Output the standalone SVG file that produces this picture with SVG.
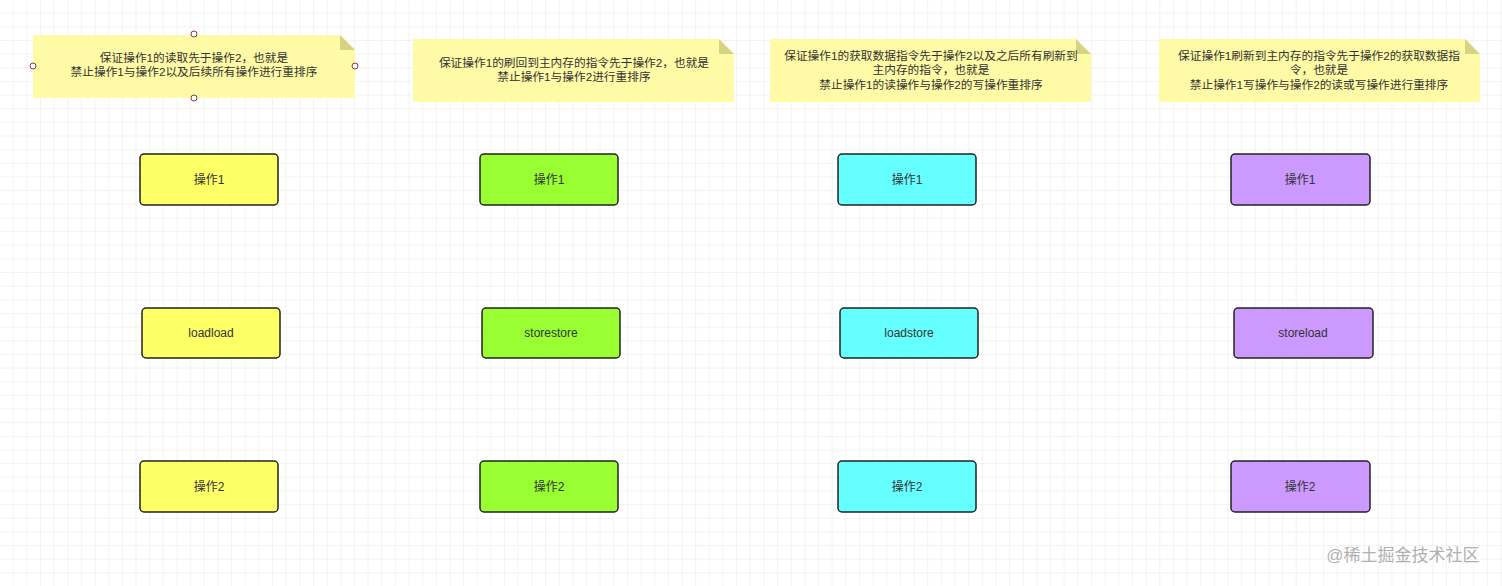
<svg xmlns="http://www.w3.org/2000/svg" width="1502" height="586" viewBox="0 0 1502 586">
<style>
text{font-family:"Liberation Sans","Noto Sans CJK SC",sans-serif;fill:#333;text-anchor:middle}
.nt{font-size:11.7px}
.bx{stroke:#222;stroke-width:1.5}
.bt{font-size:12px}
.note{fill:#fffaa6}
.fold{fill:#d6d382}
.h{fill:#fff;stroke:#8a3a3a;stroke-width:1}
</style>
<defs>
<pattern id="g" width="13.65" height="13.65" patternUnits="userSpaceOnUse">
<path d="M13.65 0V13.65H0" fill="none" stroke="#e8e8e8" stroke-width="1"/>
</pattern>
</defs>
<rect width="1502" height="586" fill="#fff"/>
<rect width="1502" height="586" fill="url(#g)"/>
<g id="note1">
<path class="note" d="M33 35H340L355 50V98H33Z"/>
<path class="fold" d="M340 35L355 50H340Z"/>
<text class="nt" x="194" y="62">保证操作1的读取先于操作2，也就是</text>
<text class="nt" x="194" y="76">禁止操作1与操作2以及后续所有操作进行重排序</text>
<circle class="h" cx="194" cy="34" r="3"/><circle class="h" cx="194" cy="98" r="3"/>
<circle class="h" cx="33" cy="66" r="3"/><circle class="h" cx="355" cy="66" r="3"/>
</g>
<g id="note2">
<path class="note" d="M413 39H719L734 54V102H413Z"/>
<path class="fold" d="M719 39L734 54H719Z"/>
<text class="nt" x="574" y="67">保证操作1的刷回到主内存的指令先于操作2，也就是</text>
<text class="nt" x="574" y="81">禁止操作1与操作2进行重排序</text>
</g>
<g id="note3">
<path class="note" d="M770 39H1076L1091 54V102H770Z"/>
<path class="fold" d="M1076 39L1091 54H1076Z"/>
<text class="nt" x="931" y="60">保证操作1的获取数据指令先于操作2以及之后所有刷新到</text>
<text class="nt" x="931" y="74">主内存的指令，也就是</text>
<text class="nt" x="931" y="89">禁止操作1的读操作与操作2的写操作重排序</text>
</g>
<g id="note4">
<path class="note" d="M1159 39H1465L1480 54V102H1159Z"/>
<path class="fold" d="M1465 39L1480 54H1465Z"/>
<text class="nt" x="1319" y="60">保证操作1刷新到主内存的指令先于操作2的获取数据指</text>
<text class="nt" x="1319" y="74">令，也就是</text>
<text class="nt" x="1319" y="89">禁止操作1写操作与操作2的读或写操作进行重排序</text>
</g>
<g id="y1"><rect class="bx" x="140" y="154" width="138" height="51" rx="4" fill="#ffff66"/><text class="bt" x="209" y="184">操作1</text></g>
<g id="y2"><rect class="bx" x="142" y="308" width="138" height="50" rx="4" fill="#ffff66"/><text class="bt" x="211" y="337">loadload</text></g>
<g id="y3"><rect class="bx" x="140" y="461" width="138" height="51" rx="4" fill="#ffff66"/><text class="bt" x="209" y="491">操作2</text></g>
<g id="g1"><rect class="bx" x="480" y="154" width="138" height="51" rx="4" fill="#99ff33"/><text class="bt" x="549" y="184">操作1</text></g>
<g id="g2"><rect class="bx" x="482" y="308" width="138" height="50" rx="4" fill="#99ff33"/><text class="bt" x="551" y="337">storestore</text></g>
<g id="g3"><rect class="bx" x="480" y="461" width="138" height="51" rx="4" fill="#99ff33"/><text class="bt" x="549" y="491">操作2</text></g>
<g id="c1"><rect class="bx" x="838" y="154" width="138" height="51" rx="4" fill="#66ffff"/><text class="bt" x="907" y="184">操作1</text></g>
<g id="c2"><rect class="bx" x="840" y="308" width="138" height="50" rx="4" fill="#66ffff"/><text class="bt" x="909" y="337">loadstore</text></g>
<g id="c3"><rect class="bx" x="838" y="461" width="138" height="51" rx="4" fill="#66ffff"/><text class="bt" x="907" y="491">操作2</text></g>
<g id="p1"><rect class="bx" x="1231" y="154" width="139" height="51" rx="4" fill="#cc99ff"/><text class="bt" x="1300" y="184">操作1</text></g>
<g id="p2"><rect class="bx" x="1234" y="308" width="139" height="50" rx="4" fill="#cc99ff"/><text class="bt" x="1303" y="337">storeload</text></g>
<g id="p3"><rect class="bx" x="1231" y="461" width="139" height="51" rx="4" fill="#cc99ff"/><text class="bt" x="1300" y="491">操作2</text></g>
<g id="connectors"></g>
<text x="1403" y="561" style="font-size:17px;fill:#b0b0b0">@稀土掘金技术社区</text>
</svg>
